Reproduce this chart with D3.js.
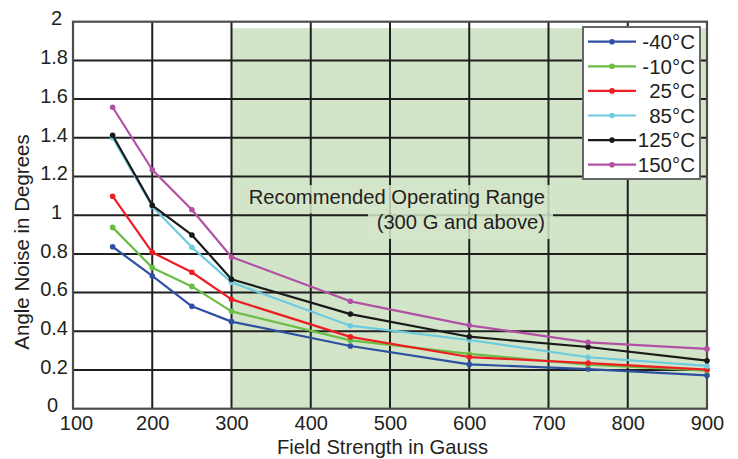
<!DOCTYPE html>
<html>
<head>
<meta charset="utf-8">
<script src="https://cdn.jsdelivr.net/npm/d3@7"></script>
<style>
  html, body { margin: 0; padding: 0; background: #fff; }
  svg { display: block; }
  text { font-family: "Liberation Sans", Arial, Helvetica, sans-serif; fill: #231f20; }
</style>
</head>
<body>
<svg id="chart" width="738" height="459"></svg>
<script>
// ---------- data ----------
const fieldStrength = [150, 200, 250, 300, 450, 600, 750, 900];
const seriesNames = ["-40°C", "-10°C", "25°C", "85°C", "125°C", "150°C"];
const noiseM40  = [0.837, 0.686, 0.529, 0.450, 0.324, 0.229, 0.205, 0.172];
const noiseM10  = [0.937, 0.729, 0.632, 0.503, 0.353, 0.283, 0.227, 0.196];
const noise25   = [1.098, 0.808, 0.705, 0.565, 0.371, 0.267, 0.236, 0.202];
const noise85   = [1.400, 1.045, 0.834, 0.653, 0.429, 0.355, 0.266, 0.221];
const noise125  = [1.413, 1.051, 0.898, 0.669, 0.489, 0.372, 0.319, 0.248];
const noise150  = [1.558, 1.235, 1.028, 0.784, 0.555, 0.431, 0.343, 0.309];
const seriesColors = ["#2f4fa2", "#6abd45", "#ee1d23", "#6dcbe0", "#1a1a1a", "#b250a5"];
const xTicks = [100, 200, 300, 400, 500, 600, 700, 800, 900];
const yTicks = [0, 0.2, 0.4, 0.6, 0.8, 1, 1.2, 1.4, 1.6, 1.8, 2];
const rangeStart = 300, rangeEnd = 900;
const annotationLines = ["Recommended Operating Range", "(300 G and above)"];
const xTitle = "Field Strength in Gauss";
const yTitle = "Angle Noise in Degrees";

const allSeries = [noiseM40, noiseM10, noise25, noise85, noise125, noise150];

// ---------- layout ----------
const svg = d3.select("#chart");
const L = 73, R = 707, T = 21.7, B = 408.7;
const x = d3.scaleLinear().domain([100, 900]).range([L, R]);
const y = d3.scaleLinear().domain([0, 2]).range([B, T]);

svg.append("rect").attr("width", 738).attr("height", 459).attr("fill", "#fff");

// recommended range shading
svg.append("rect")
  .attr("x", x(rangeStart)).attr("y", T + 6.5)
  .attr("width", x(rangeEnd) - x(rangeStart)).attr("height", B - T - 6.5)
  .attr("fill", "#d3e5c9");

// gridlines
const grid = svg.append("g").attr("stroke", "#1f1f1f").attr("stroke-width", 2);
grid.selectAll("line.v").data(xTicks.slice(1, -1)).join("line")
  .attr("x1", d => x(d)).attr("x2", d => x(d)).attr("y1", T).attr("y2", B);
grid.selectAll("line.h").data(yTicks.slice(1, -1)).join("line")
  .attr("x1", L).attr("x2", R).attr("y1", d => y(d)).attr("y2", d => y(d));

// annotation (semi-transparent backing boxes)
const ann = svg.append("g");
ann.append("rect").attr("x", 246).attr("y", 185).attr("width", 307).attr("height", 28.5)
  .attr("fill", "#d3e5c9").attr("opacity", 0.85);
ann.append("rect").attr("x", 368).attr("y", 213.5).attr("width", 185).attr("height", 25.5)
  .attr("fill", "#d3e5c9").attr("opacity", 0.85);
ann.selectAll("text").data(annotationLines).join("text")
  .attr("x", 545).attr("y", (d, i) => 204 + i * 25)
  .attr("text-anchor", "end").attr("font-size", 20.2)
  .text(d => d);

// frame
svg.append("rect").attr("x", L).attr("y", T).attr("width", R - L).attr("height", B - T)
  .attr("fill", "none").attr("stroke", "#4d4d4d").attr("stroke-width", 2.2);

// axes
const xAxis = svg.append("g").attr("transform", `translate(0,${B})`)
  .call(d3.axisBottom(x).tickValues(xTicks).tickSize(0).tickPadding(7).tickFormat(d3.format("d")));
xAxis.select(".domain").remove();
xAxis.selectAll("text").attr("font-size", 20).attr("fill", "#231f20")
  .attr("font-family", "Liberation Sans, Arial, sans-serif").attr("dy", "0.7em")
  .attr("dx", d => d === xTicks[0] ? 3 : 0);

const yAxis = svg.append("g").attr("transform", `translate(${L},0)`)
  .call(d3.axisLeft(y).tickValues(yTicks).tickSize(0).tickPadding(5).tickFormat(d3.format("~g")));
yAxis.select(".domain").remove();
yAxis.selectAll("text").attr("font-size", 20).attr("fill", "#231f20")
  .attr("font-family", "Liberation Sans, Arial, sans-serif")
  .attr("dy", "0.16em")
  .attr("dx", d => d === 0 ? -10 : (Number.isInteger(d) ? -6 : 0));

// axis titles
svg.append("text").attr("x", 382.5).attr("y", 454).attr("text-anchor", "middle")
  .attr("font-size", 20.2).text(xTitle);
svg.append("text").attr("transform", "translate(29,242) rotate(-90)")
  .attr("text-anchor", "middle").attr("font-size", 20.5).text(yTitle);

// series
const line = d3.line().x((d, i) => x(fieldStrength[i])).y(d => y(d));
const gSeries = svg.append("g");
allSeries.forEach((vals, k) => {
  gSeries.append("path").datum(vals).attr("d", line)
    .attr("fill", "none").attr("stroke", seriesColors[k]).attr("stroke-width", 2.2)
    .attr("stroke-linejoin", "round");
  gSeries.selectAll(null).data(vals).join("circle")
    .attr("cx", (d, i) => x(fieldStrength[i])).attr("cy", d => y(d)).attr("r", 2.8)
    .attr("fill", seriesColors[k]);
});

// legend
const lg = svg.append("g");
lg.append("rect").attr("x", 583).attr("y", 27).attr("width", 117).attr("height", 152)
  .attr("fill", "#fff").attr("stroke", "#666").attr("stroke-width", 2);
seriesNames.forEach((name, k) => {
  const cy = 41.7 + k * 24.6;
  lg.append("line").attr("x1", 588).attr("x2", 636).attr("y1", cy).attr("y2", cy)
    .attr("stroke", seriesColors[k]).attr("stroke-width", 2.2);
  lg.append("circle").attr("cx", 612).attr("cy", cy).attr("r", 2.8).attr("fill", seriesColors[k]);
  lg.append("text").attr("x", 695).attr("y", cy).attr("dy", "0.36em")
    .attr("text-anchor", "end").attr("font-size", 20.5).text(name);
});
</script>
</body>
</html>
